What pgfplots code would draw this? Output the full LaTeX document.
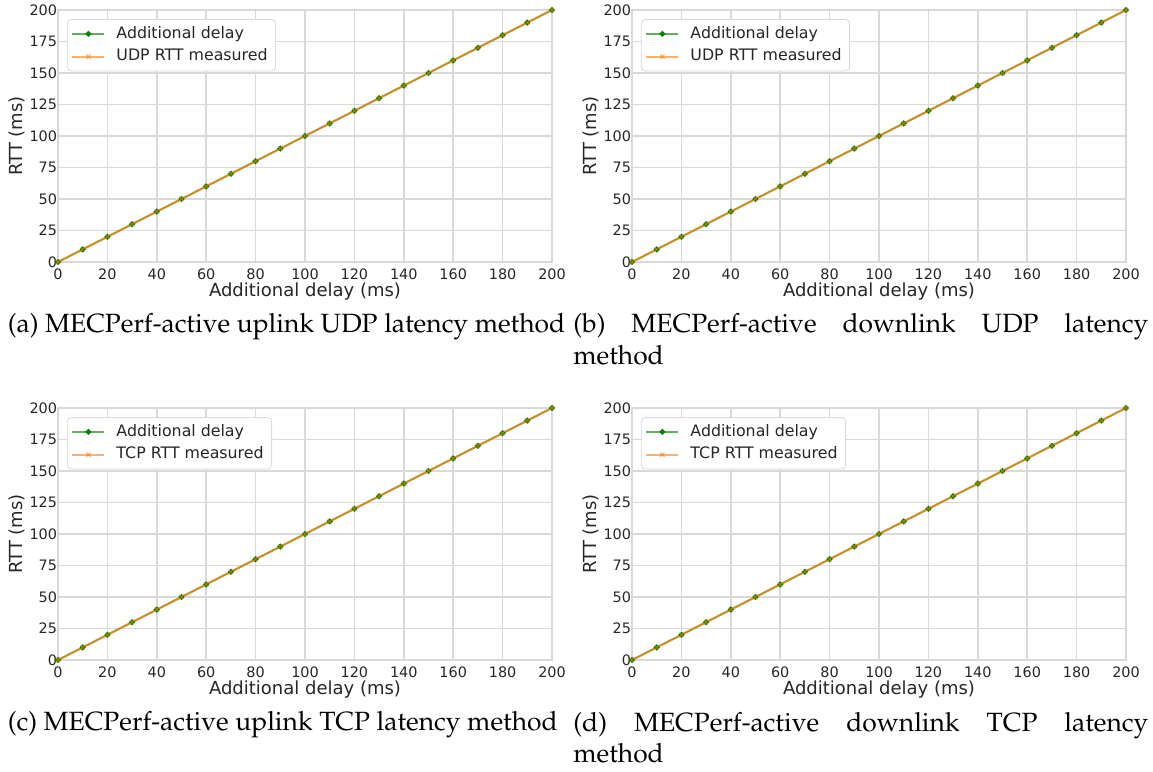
\documentclass[border=0pt]{standalone}
\usepackage[T1]{fontenc}
\usepackage{fontspec}
\setmainfont{DejaVu Sans}
\usepackage{pgfplots}
\usepackage{pgfplotstable}
\pgfplotsset{compat=1.18}

\definecolor{mplgreen}{HTML}{008000}
\definecolor{mplorange}{HTML}{FF7F0E}
\definecolor{gridgray}{HTML}{D9D9D9}
\definecolor{ticktext}{HTML}{262626}
\newcommand{\capfont}{\fontencoding{T1}\fontfamily{ppl}\fontsize{13.2}{16}\selectfont}

% added delay vs measured RTT, all in ms
\pgfplotstableread{
x   delay udpup udpdown tcpup tcpdown
0   0     0     0       0     0
10  10    10    10      10    10
20  20    20    20      20    20
30  30    30    30      30    30
40  40    40    40      40    40
50  50    50    50      50    50
60  60    60    60      60    60
70  70    70    70      70    70
80  80    80    80      80    80
90  90    90    90      90    90
100 100   100   100     100   100
110 110   110   110     110   110
120 120   120   120     120   120
130 130   130   130     130   130
140 140   140   140     140   140
150 150   150   150     150   150
160 160   160   160     160   160
170 170   170   170     170   170
180 180   180   180     180   180
190 190   190   190     190   190
200 200   200   200     200   200
}\rtt

\pgfplotsset{
  rttaxis/.style={
    scale only axis, width=247pt, height=126pt,
    xmin=0, xmax=200, ymin=0, ymax=200,
    xtick={0,20,...,200}, ytick={0,25,...,200},
    grid=major, major grid style={gridgray, line width=0.8pt},
    axis line style={gridgray, line width=0.8pt},
    major tick length=0pt,
    /pgf/number format/assume math mode=true,
    tick label style={font=\fontsize{7.2}{8}\selectfont, text=ticktext},
    yticklabel style={inner xsep=0.3pt},
    label style={font=\fontsize{9}{10}\selectfont, text=ticktext},
    xlabel={Additional delay (ms)}, ylabel={RTT (ms)},
    xlabel style={yshift=5.2pt},
    ylabel style={at={(axis description cs:-0.083,0.5)}, anchor=center},
    legend cell align=left,
    legend style={at={(0.018,0.964)}, anchor=north west,
      font=\fontsize{7.9}{9}\selectfont, text=ticktext,
      draw=gridgray, rounded corners=2pt, fill=white,
      inner xsep=2pt, inner ysep=1.8pt, row sep=0.6pt,
      nodes={text height=6pt, text depth=1.8pt, inner ysep=1.5pt}},
    legend image code/.code={
      \draw[mark repeat=2, mark phase=2] plot coordinates {(0pt,0pt) (8pt,0pt) (16pt,0pt)};
      \path (19.5pt,0pt);},
  },
  delayline/.style={color=mplgreen!62!white, line width=0.9pt,
    mark=*, mark size=0.95pt, mark options={draw=mplgreen, fill=mplgreen}},
  rttline/.style={mplorange, opacity=0.6, line width=1.1pt, mark=x, mark size=1.5pt,
    mark options={line width=0.6pt}},
}

\begin{document}
\begin{tikzpicture}
\useasboundingbox (0,0) rectangle (576.5pt,386pt);

\begin{axis}[rttaxis, at={(29pt,255pt)}, anchor=south west]
\addplot[delayline] table[x=x, y=delay] {\rtt};
\addplot[rttline] table[x=x, y=udpup] {\rtt};
\legend{Additional delay, UDP RTT measured}
\end{axis}

\begin{axis}[rttaxis, at={(316pt,255pt)}, anchor=south west]
\addplot[delayline] table[x=x, y=delay] {\rtt};
\addplot[rttline] table[x=x, y=udpdown] {\rtt};
\legend{Additional delay, UDP RTT measured}
\end{axis}

\begin{axis}[rttaxis, at={(29pt,56pt)}, anchor=south west]
\addplot[delayline] table[x=x, y=delay] {\rtt};
\addplot[rttline] table[x=x, y=tcpup] {\rtt};
\legend{Additional delay, TCP RTT measured}
\end{axis}

\begin{axis}[rttaxis, at={(316pt,56pt)}, anchor=south west]
\addplot[delayline] table[x=x, y=delay] {\rtt};
\addplot[rttline] table[x=x, y=tcpdown] {\rtt};
\legend{Additional delay, TCP RTT measured}
\end{axis}

\node[anchor=base west, inner sep=0pt, font=\capfont] at (3.7pt,219.5pt)
  {(a) MECPerf-active uplink UDP latency method};
\node[anchor=base west, inner sep=0pt, font=\capfont, align=left] at (286.5pt,203.5pt)
  {\makebox[287.5pt][s]{(b) MECPerf-active downlink UDP latency}\\method};
\node[anchor=base west, inner sep=0pt, font=\capfont] at (3.7pt,20.5pt)
  {(c) MECPerf-active uplink TCP latency method};
\node[anchor=base west, inner sep=0pt, font=\capfont, align=left] at (286.5pt,4.5pt)
  {\makebox[287.5pt][s]{(d) MECPerf-active downlink TCP latency}\\method};
\end{tikzpicture}
\end{document}
